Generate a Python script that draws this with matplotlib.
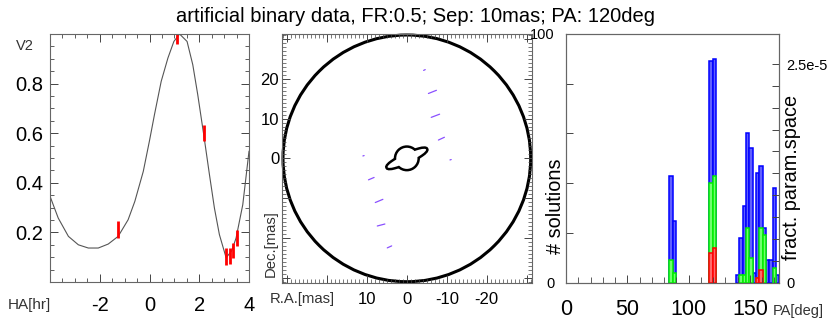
import numpy as np
import matplotlib
matplotlib.use("Agg")
import matplotlib.pyplot as plt
from matplotlib.patches import Circle, Ellipse
from matplotlib.ticker import MultipleLocator, FixedLocator, FixedFormatter

plt.rcParams['font.family'] = ['Liberation Sans', 'DejaVu Sans']

title = "artificial binary data, FR:0.5; Sep: 10mas; PA: 120deg"

# ---------------- panel 1: V2 vs hour angle ----------------
ha_model = [-4.0, -3.67, -3.26, -2.86, -2.46, -2.06, -1.66, -1.26, -0.86, -0.59,
            -0.25, 0.0, 0.20, 0.47, 0.74, 0.98, 1.21, 1.51, 1.74, 1.94, 2.18,
            2.41, 2.61, 2.81, 3.08, 3.30, 3.48, 3.75, 4.0]
v2_model = [0.346, 0.258, 0.184, 0.150, 0.137, 0.137, 0.153, 0.184, 0.251, 0.325,
            0.446, 0.570, 0.675, 0.809, 0.903, 0.970, 1.0, 0.970, 0.876, 0.755, 0.594,
            0.433, 0.298, 0.191, 0.098, 0.125, 0.177, 0.312, 0.527]
ha_obs = [-1.26, 1.09, 2.18, 3.06, 3.24, 3.34, 3.51]
v2_obs = [0.212, 0.99, 0.602, 0.103, 0.105, 0.127, 0.177]
v2_err = [0.034, 0.03, 0.032, 0.033, 0.032, 0.030, 0.033]

# ---------------- panel 2: sky plane ----------------
primary_ra, primary_dec = 0.0, 0.0
fov_radius = 31.0
sol_ra_a = [-4.2, -5.4, -6.1, -7.9, -10.8, 11.0, 9.6, 7.9, 7.4, 4.9]
sol_dec_a = [22.1, 16.3, 10.3, 4.6, -0.4, 0.6, -5.4, -11.1, -17.0, -22.5]
sol_ra_b = [-4.6, -7.4, -8.2, -9.4, -11.1, 10.7, 8.2, 6.0, 5.5, 3.8]
sol_dec_b = [22.3, 17.1, 11.1, 5.3, -0.3, 0.7, -4.8, -10.3, -16.5, -22.0]

# ---------------- panel 3: PA histogram ----------------
pa_min, pa_max, n_bins = 0.0, 174.0, 64
frac_per_solution = 2.843e-7
all_bins = [31, 32, 43, 44, 51, 52, 53, 54, 55, 56, 57, 58, 59, 60, 61, 62, 63]
all_counts = [43, 25, 89, 90, 3, 18, 31, 60, 54, 4, 44, 47, 22, 9, 9, 38, 3]
good_bins = [31, 32, 43, 44, 52, 53, 54, 55, 57, 58, 59, 62]
good_counts = [9, 4, 40, 43, 3, 3, 22, 10, 2, 22, 19, 6]
best_bins = [43, 44, 57, 58]
best_counts = [12, 14, 2, 5]

W, H = 830, 333
fig = plt.figure(figsize=(W / 100, H / 100), dpi=100)


def rect(x0, y0, x1, y1):
    return [x0 / W, 1 - y1 / H, (x1 - x0) / W, (y1 - y0) / H]


FRAME = '#666666'
LBL = '#333333'


def frame(ax):
    for s in ax.spines.values():
        s.set_color(FRAME)
        s.set_linewidth(0.8)


fig.text(415 / W, 1 - 16 / H, title, ha='center', va='center', fontsize=14.5)

# ---- panel 1
ax1 = fig.add_axes(rect(50, 34, 249, 282))
ax1.plot(ha_model, v2_model, color='#555555', lw=0.8)
ax1.errorbar(ha_obs, v2_obs, yerr=v2_err, fmt='none', ecolor='red', elinewidth=2.0, capsize=0)
ax1.set_xlim(-4, 4)
ax1.set_ylim(0, 1)
ax1.xaxis.set_major_locator(FixedLocator([-4, -2, 0, 2, 4]))
ax1.xaxis.set_major_formatter(FixedFormatter(['', '-2', '0', '2', '4']))
ax1.xaxis.set_minor_locator(MultipleLocator(0.5))
ax1.yaxis.set_major_locator(FixedLocator([0, 0.2, 0.4, 0.6, 0.8, 1.0]))
ax1.yaxis.set_major_formatter(FixedFormatter(['', '0.2', '0.4', '0.6', '0.8', '']))
ax1.yaxis.set_minor_locator(MultipleLocator(0.05))
ax1.tick_params(which='both', direction='in', top=True, right=True, color='#444444')
ax1.tick_params(which='major', length=6, width=0.7, labelsize=14.5)
ax1.tick_params(which='minor', length=3, width=0.6)
ax1.tick_params(axis='x', pad=10)
ax1.tick_params(axis='y', pad=5)
frame(ax1)
fig.text(16 / W, 1 - 46 / H, 'V2', ha='left', va='center', fontsize=10.5, color=LBL)
fig.text(8 / W, 1 - 305 / H, 'HA[hr]', ha='left', va='center', fontsize=11, color=LBL)

# ---- panel 2
ax2 = fig.add_axes(rect(282, 34, 531.7, 282.7))
ax2.set_xlim(31.25, -31.25)
ax2.set_ylim(-31.25, 31.25)
ax2.add_patch(Circle((primary_ra, primary_dec), fov_radius, fill=False, lw=2.2,
                     ec='black', clip_on=False))
ring_w, ring_h, ring_ang, body_r = 10.6, 1.9, -25, 2.65
ax2.add_patch(Ellipse((primary_ra, primary_dec), ring_w, ring_h, angle=ring_ang,
                      fill=False, ec='black', lw=3.6, zorder=3))
ax2.add_patch(Circle((primary_ra, primary_dec), body_r, fill=False, ec='black', lw=3.6, zorder=3))
ax2.add_patch(Ellipse((primary_ra, primary_dec), ring_w, ring_h, angle=ring_ang,
                      fc='white', ec='none', zorder=4))
ax2.add_patch(Circle((primary_ra, primary_dec), body_r, fc='white', ec='none', zorder=4))
for i in range(len(sol_ra_a)):
    ax2.plot([sol_ra_a[i], sol_ra_b[i]], [sol_dec_a[i], sol_dec_b[i]], color='#8a50ff',
             lw=0.9, solid_capstyle='round')
ax2.xaxis.set_major_locator(FixedLocator([30, 20, 10, 0, -10, -20, -30]))
ax2.xaxis.set_major_formatter(FixedFormatter(['', '', '10', '0', '-10', '-20', '']))
ax2.yaxis.set_major_locator(FixedLocator([-30, -20, -10, 0, 10, 20, 30]))
ax2.yaxis.set_major_formatter(FixedFormatter(['', '', '', '0', '10', '20', '']))
ax2.xaxis.set_minor_locator(MultipleLocator(1))
ax2.yaxis.set_minor_locator(MultipleLocator(1))
ax2.tick_params(which='both', direction='in', top=True, right=True, color='#444444')
ax2.tick_params(which='major', length=6, width=0.7, labelsize=12)
ax2.tick_params(which='minor', length=3, width=0.5)
ax2.tick_params(axis='x', pad=7)
ax2.tick_params(axis='y', pad=2)
frame(ax2)
fig.text(270 / W, 1 - 299 / H, 'R.A.[mas]', ha='left', va='center', fontsize=10.7, color=LBL)
fig.text(271 / W, 1 - 244 / H, 'Dec.[mas]', ha='center', va='center', fontsize=10.7,
         color=LBL, rotation=90)

# ---- panel 3
ax3 = fig.add_axes(rect(566, 34, 779.3, 282.7))
edges = np.linspace(pa_min, pa_max, n_bins + 1)
width = edges[1] - edges[0]
for bins, counts, ec, fc in ((all_bins, all_counts, '#0000ff', '#6060ff'),
                             (good_bins, good_counts, '#00ee00', '#70ff70'),
                             (best_bins, best_counts, '#ff0000', '#ff6a6a')):
    ax3.bar(edges[bins], counts, width=width, align='edge', color=fc, edgecolor=ec,
            linewidth=1.1)
ax3.set_xlim(pa_min, pa_max)
ax3.set_ylim(0, 100)
ax3.xaxis.set_major_locator(FixedLocator([0, 50, 100, 150]))
ax3.xaxis.set_minor_locator(MultipleLocator(10))
ax3.yaxis.set_major_locator(FixedLocator([0, 20, 40, 60, 80, 100]))
ax3.yaxis.set_major_formatter(FixedFormatter(['0', '', '', '', '', '100']))
ax3.tick_params(which='both', direction='in', color='#444444')
ax3.tick_params(axis='x', which='major', length=6, width=0.7, labelsize=15.5, pad=12)
ax3.tick_params(axis='x', which='minor', length=4, width=0.6)
ax3.tick_params(axis='y', which='major', length=5, width=0.7, labelsize=10.5, pad=8)
frame(ax3)
ax3r = ax3.twinx()
ax3r.set_ylim(0, 100 * frac_per_solution)
rt = np.arange(0, 11) * 0.25e-5
ax3r.yaxis.set_major_locator(FixedLocator(rt))
ax3r.yaxis.set_major_formatter(FixedFormatter(['0'] + [''] * 9 + ['2.5e-5']))
ax3r.tick_params(which='both', direction='in', color='#444444', length=5, width=0.7,
                 labelsize=10.5, pad=5)
frame(ax3r)
fig.text(555 / W, 1 - 206 / H, '# solutions', ha='center', va='center', fontsize=14.3,
         rotation=90)
fig.text(791.7 / W, 1 - 177 / H, 'fract. param.space', ha='center', va='center',
         fontsize=14.3, rotation=90)
fig.text(773 / W, 1 - 311 / H, 'PA[deg]', ha='left', va='center', fontsize=10.5, color=LBL)

fig.savefig('out.png', dpi=100)
